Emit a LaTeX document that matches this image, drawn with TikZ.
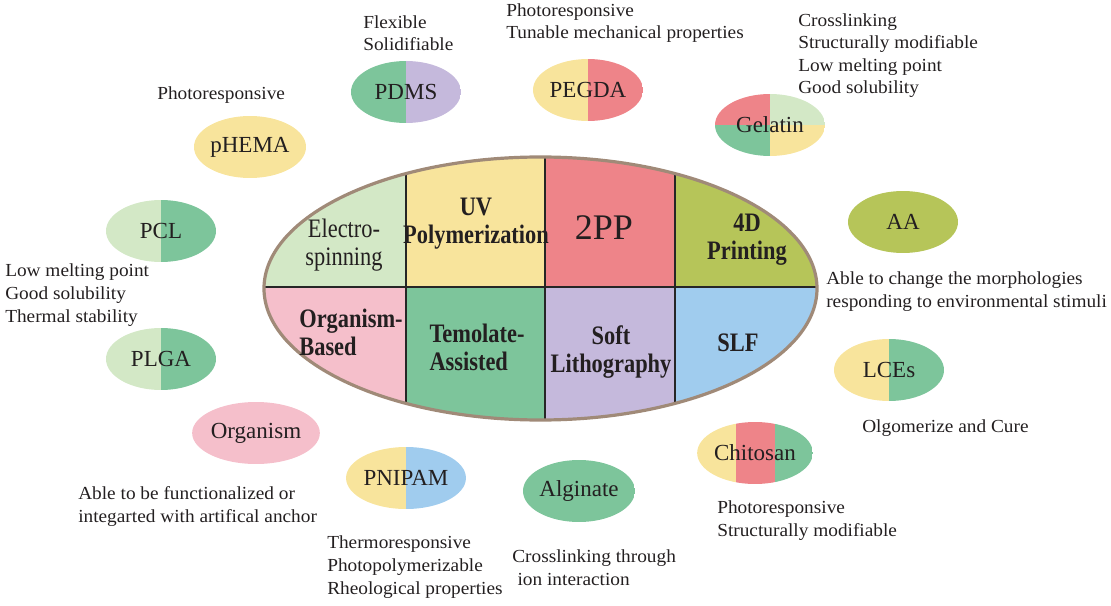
\documentclass[tikz,border=0pt]{standalone}
\usepackage{fontspec}
\setmainfont{Liberation Serif}
\newfontfamily\cellfont[FakeStretch=0.84]{Liberation Serif}
\newfontfamily\notefont[FakeStretch=1.05]{Liberation Serif}
\usetikzlibrary{shapes.geometric}
\definecolor{leaf}{HTML}{D3E8C6}
\definecolor{mint}{HTML}{7DC59B}
\definecolor{cream}{HTML}{F8E49C}
\definecolor{salmon}{HTML}{EE8489}
\definecolor{olive}{HTML}{B6C559}
\definecolor{blush}{HTML}{F5BFCB}
\definecolor{lilac}{HTML}{C5B9DC}
\definecolor{sky}{HTML}{A0CCEE}
\definecolor{rim}{HTML}{A08A78}
\definecolor{ink}{HTML}{231F20}

\begin{document}
\begin{tikzpicture}[x=0.75pt,y=-0.75pt,
  every node/.style={text=ink},
  cell/.style={font=\cellfont\bfseries\fontsize{20}{21}\selectfont,align=center,inner sep=0pt},
  cellthin/.style={cell,font=\cellfont\fontsize{20}{21}\selectfont},
  material/.style={ellipse,minimum width=82.5pt,minimum height=46.5pt,inner sep=0pt,
    font=\fontsize{17.25}{20}\selectfont},
  halves/.style 2 args={path picture={
    \fill[#1] (path picture bounding box.south west) rectangle (path picture bounding box.north);
    \fill[#2] (path picture bounding box.south) rectangle (path picture bounding box.north east);}},
  note/.style={font=\notefont\fontsize{13.8}{16.9}\selectfont,align=left,anchor=base west,inner sep=0pt},
]
\useasboundingbox (0,0) rectangle (1111,606);

% central ellipse with the eight methods
\begin{scope}
  \clip (540.5,288.5) ellipse [x radius=276.5, y radius=131.5];
  \foreach \xa/\xb/\ctop/\cbot in {250/406/leaf/blush, 406/545/cream/mint, 545/675/salmon/lilac, 675/830/olive/sky} {
    \fill[\ctop] (\xa,150) rectangle (\xb,287);
    \fill[\cbot] (\xa,287) rectangle (\xb,430);
  }
  \draw[line width=1.1pt,black!85] (250,287) -- (830,287)
    (406,150) -- (406,430) (545,150) -- (545,430) (675,150) -- (675,430);
\end{scope}
\draw[rim,line width=2.4pt] (540.5,288.5) ellipse [x radius=276.5, y radius=131.5];

\node[cellthin] (electro) at (344,245) {Electro-\\spinning};
\node[cell] (uv) at (476,224) {UV\\Polymerization};
\node[cell,font=\fontsize{27}{27}\selectfont] (tpp) at (604,228) {2PP};
\node[cell] (fourd) at (747,240) {4D\\Printing};
\node[cell,align=left] (organismbased) at (351,332) {Organism-\\Based};
\node[cell,align=left] (templated) at (477,347) {Temolate-\\Assisted};
\node[cell] (softlith) at (611,352) {Soft\\Lithography};
\node[cell] (slf) at (738,343) {SLF};

% materials
\foreach \nm/\cx/\cy/\lc/\rc/\txt in {pdms/406/92/mint/lilac/PDMS, pegda/588/90/cream/salmon/PEGDA,
    phema/250/147/cream/cream/pHEMA, pcl/161/231/leaf/mint/PCL, plga/161/359/leaf/mint/PLGA,
    organism/256/433/blush/blush/Organism, pnipam/406/478/cream/sky/PNIPAM,
    alginate/579/491/mint/mint/Alginate, aa/903/222/olive/olive/AA, lces/889/370/cream/mint/LCEs}
  \node[material,halves={\lc}{\rc}] (\nm) at (\cx,\cy) {\txt};

\node[material,path picture={
    \fill[salmon] (path picture bounding box.north west) rectangle (path picture bounding box.center);
    \fill[leaf] (path picture bounding box.north east) rectangle (path picture bounding box.center);
    \fill[mint] (path picture bounding box.south west) rectangle (path picture bounding box.center);
    \fill[cream] (path picture bounding box.south east) rectangle (path picture bounding box.center);}]
  (gelatin) at (770,125) {Gelatin};
\node[material,path picture={
    \fill[cream] (path picture bounding box.south west) rectangle ([xshift=-14pt]path picture bounding box.north);
    \fill[salmon] ([xshift=-14pt]path picture bounding box.south) rectangle ([xshift=15pt]path picture bounding box.north);
    \fill[mint] ([xshift=15pt]path picture bounding box.south) rectangle (path picture bounding box.north east);}]
  (chitosan) at (755,453) {Chitosan};

% properties (placed by the baseline of their last line)
\node[note] (pdmsnote) at (363,51) {Flexible\\Solidifiable};
\node[note] (pegdanote) at (506,39) {Photoresponsive\\Tunable mechanical properties};
\node[note] (gelatinnote) at (798,94) {Crosslinking\\Structurally modifiable\\Low melting point\\Good solubility};
\node[note] (phemanote) at (157,100) {Photoresponsive};
\node[note] (pclnote) at (5,322) {Low melting point\\Good solubility\\Thermal stability};
\node[note] (organismnote) at (78,522) {Able to be functionalized or\\integarted with artifical anchor};
\node[note] (pnipamnote) at (327,594) {Thermoresponsive\\Photopolymerizable\\Rheological properties};
\node[note] (alginatenote) at (512,585) {Crosslinking through\\\hspace{4pt}ion interaction};
\node[note] (aanote) at (826,307) {Able to change the morphologies\\responding to environmental stimuli};
\node[note] (lcesnote) at (862,432) {Olgomerize and Cure};
\node[note] (chitosannote) at (717,536) {Photoresponsive\\Structurally modifiable};
\end{tikzpicture}
\end{document}
